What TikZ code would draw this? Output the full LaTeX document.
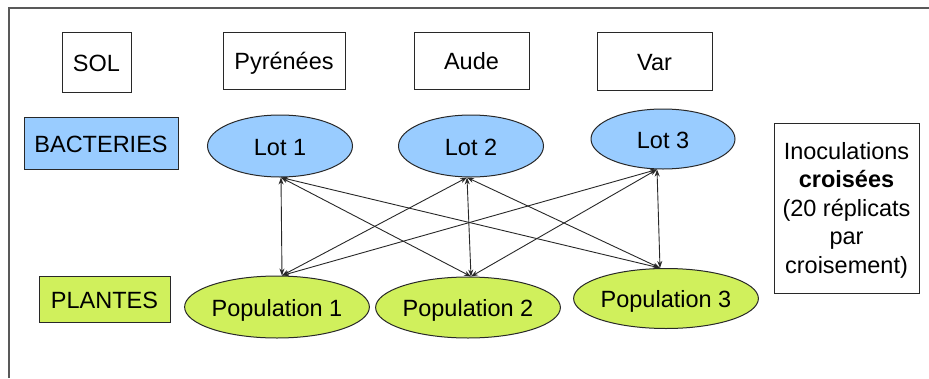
\documentclass[tikz,border=0pt]{standalone}
\usepackage{fontspec}
\setmainfont{Liberation Sans}
\usetikzlibrary{arrows.meta,shapes.geometric}
\definecolor{bact}{RGB}{153,204,255}
\definecolor{plant}{RGB}{208,240,92}
\definecolor{edge}{RGB}{40,40,40}
\begin{document}
\begin{tikzpicture}[x=1pt,y=-1pt,
  label text/.style={font=\fontsize{23.5}{28.5}\selectfont, text=black},
  one line/.style={text height=20pt, text depth=2pt},
  box/.style={draw=edge, line width=1pt, inner sep=0pt, label text},
  lot/.style={ellipse, draw=edge, line width=1pt, fill=bact, inner sep=0pt, label text, one line},
  pop/.style={ellipse, draw=edge, line width=1pt, fill=plant, inner sep=0pt, label text, one line},
  link/.style={{Stealth[length=7pt,width=5pt]}-{Stealth[length=7pt,width=5pt]}, line width=0.9pt, draw=edge},
  frame/.style={draw=black!65, line width=1.5pt}]
\useasboundingbox (0,0) rectangle (929,378);
\fill[white] (0,0) rectangle (929,378);
\draw[frame] (9,378) -- (9,8) -- (929,8);

% header row
\node[box, one line, minimum width=69pt, minimum height=60pt] (sol) at (96.5,62) {SOL};
\node[box, one line, minimum width=122pt, minimum height=57pt] (pyr) at (284,60.5) {Pyrénées};
\node[box, one line, minimum width=115pt, minimum height=57pt] (aude) at (471.5,60.5) {Aude};
\node[box, one line, minimum width=115pt, minimum height=58pt] (var) at (654.5,61) {Var};

% row labels
\node[box, one line, fill=bact, minimum width=154pt, minimum height=52pt] (bact) at (101,143) {BACTERIES};
\node[box, one line, fill=plant, minimum width=131pt, minimum height=46pt] (plant) at (104.5,299) {PLANTES};

% side note
\node[box, minimum width=145pt, minimum height=170pt, align=center] (inoc) at (846.5,208) {};
\node[label text, align=center, inner sep=0pt] (inoctext) at ([yshift=-2pt]inoc.center)
  {Inoculations\\\textbf{croisées}\\(20 réplicats\\par\\croisement)};

% bacterial lots
\node[lot, minimum width=145pt, minimum height=62pt] (L1) at (280,146) {Lot 1};
\node[lot, minimum width=145pt, minimum height=62pt] (L2) at (471,146) {Lot 2};
\node[lot, minimum width=144pt, minimum height=60pt] (L3) at (663,139) {Lot 3};

% plant populations
\node[pop, minimum width=154pt, minimum height=62pt] (P1) at (277,307) {Population 1};
\node[pop, minimum width=154pt, minimum height=61pt] (P2) at (468,307.5) {Population 2};
\node[pop, minimum width=153pt, minimum height=60pt] (P3) at (666,298.5) {Population 3};

% meeting points of the connectors
\coordinate (a1) at ([xshift=1pt]L1.south);
\coordinate (a2) at ([xshift=-4pt]L2.south);
\coordinate (a3) at ([xshift=-6pt]L3.south);
\coordinate (b1) at ([xshift=5pt]P1.north);
\coordinate (b2) at ([xshift=3pt]P2.north);
\coordinate (b3) at ([xshift=-6pt]P3.north);

% crossed inoculations
\foreach \i in {1,2,3}{
  \foreach \j in {1,2,3}{
    \draw[link] (a\i) -- (b\j);
  }
}
\end{tikzpicture}
\end{document}
